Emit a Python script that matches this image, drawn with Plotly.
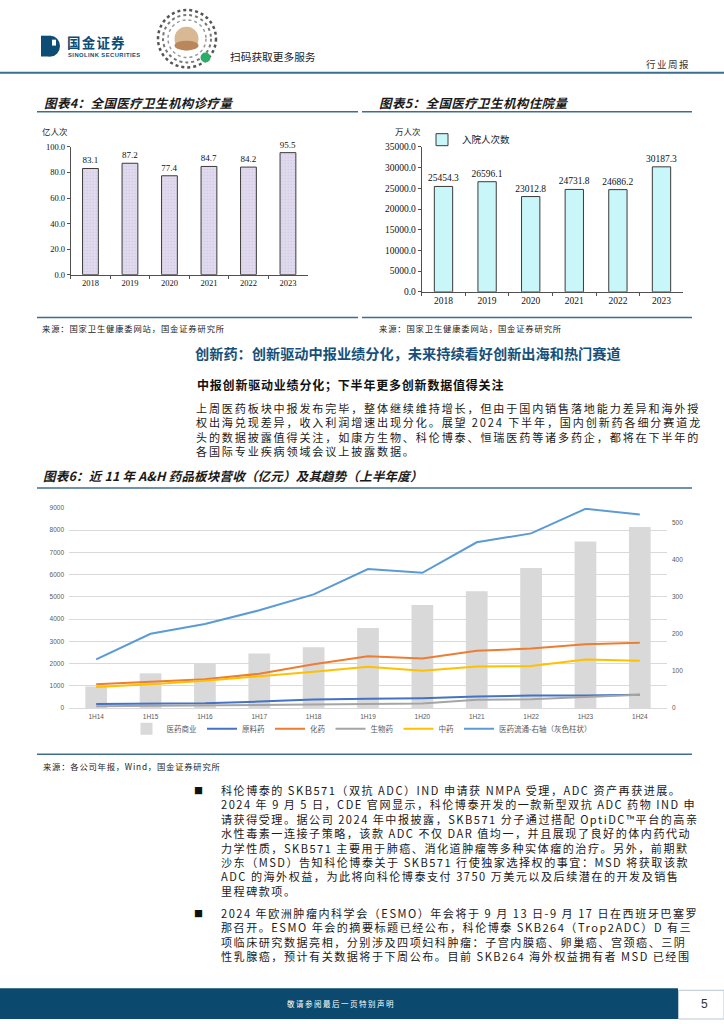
import plotly.graph_objects as go

W, H = 724, 1024
def X(px): return px / W
def Y(py): return 1 - py / H

CJK = "Noto Sans CJK SC"
SERIF = "Liberation Serif"
SANS = "Liberation Sans"

# ---------------- data ----------------
years = ["2018", "2019", "2020", "2021", "2022", "2023"]
visits = [83.1, 87.2, 77.4, 84.7, 84.2, 95.5]                              # 亿人次
admissions = [25454.3, 26596.1, 23012.8, 24731.8, 24686.2, 30187.3]         # 万人次

halves = ["1H14", "1H15", "1H16", "1H17", "1H18", "1H19", "1H20", "1H21", "1H22", "1H23", "1H24"]
commerce = [970, 1560, 2005, 2450, 2730, 3595, 4635, 5245, 6297, 7487, 8140]   # 医药商业
api = [180, 190, 215, 290, 380, 415, 445, 520, 565, 570, 593]                  # 原料药
chem = [1070, 1170, 1290, 1540, 1965, 2330, 2230, 2570, 2675, 2865, 2930]      # 化药
bio = [80, 95, 110, 130, 160, 178, 209, 370, 400, 505, 600]                    # 生物药
tcm = [950, 1065, 1230, 1413, 1630, 1858, 1680, 1872, 1885, 2183, 2126]        # 中药
dist = [131, 200, 226, 263, 306, 374, 364, 446, 470, 536, 521]                 # 医药流通-右轴

left_ticks = [0, 1000, 2000, 3000, 4000, 5000, 6000, 7000, 8000, 9000]
right_ticks = [0, 100, 200, 300, 400, 500]

fig = go.Figure()

# ---------------- chart 4 ----------------
fig.add_trace(go.Bar(
    x=years, y=visits, name="诊疗人次", xaxis="x", yaxis="y", legend="legend",
    width=0.4,
    marker=dict(color="#ddd5ec", line=dict(color="#3a3a3a", width=1),
                pattern=dict(shape=".", fgcolor="#b8add2", bgcolor="#e1daee", size=3, solidity=0.15)),
    text=[f"{v:.1f}" for v in visits], textposition="outside", cliponaxis=False,
    constraintext="none",
    textfont=dict(family=SERIF, size=9, color="#111"), hoverinfo="skip"))

# ---------------- chart 5 ----------------
fig.add_trace(go.Bar(
    x=years, y=admissions, name="入院人次数", xaxis="x2", yaxis="y2", legend="legend2",
    width=0.42,
    marker=dict(color="#c9f6f8", line=dict(color="#3a3a3a", width=1)),
    text=[f"{v:.1f}" for v in admissions], textposition="outside", cliponaxis=False,
    constraintext="none",
    textfont=dict(family=SERIF, size=9.5, color="#111"), hoverinfo="skip"))

# ---------------- chart 6 ----------------
fig.add_trace(go.Bar(x=halves, y=commerce, name="医药商业", xaxis="x3", yaxis="y3",
                     legend="legend3", width=0.4, marker=dict(color="#d9d9d9", line=dict(width=0)),
                     hoverinfo="skip"))
line_specs = [
    ("原料药", api, "#4472c4", "y3"),
    ("化药", chem, "#ed7d31", "y3"),
    ("生物药", bio, "#a5a5a5", "y3"),
    ("中药", tcm, "#ffc000", "y3"),
    ("医药流通-右轴（灰色柱状）", dist, "#5b9bd5", "y4"),
]
for name, vals, col, ya in line_specs:
    fig.add_trace(go.Scatter(x=halves, y=vals, name=name, mode="lines", xaxis="x3", yaxis=ya,
                             legend="legend3", line=dict(color=col, width=2), hoverinfo="skip"))

axis_dark = "#505050"
fig.update_layout(
    width=W, height=H, margin=dict(l=0, r=0, t=0, b=0),
    paper_bgcolor="white", plot_bgcolor="rgba(0,0,0,0)",
    font=dict(family=CJK, color="#222"),
    xaxis=dict(domain=[X(70.7), X(307.7)], anchor="y", type="category", range=[-0.5, 5.5],
               showline=True, linecolor=axis_dark, linewidth=1, ticks="outside", ticklen=3,
               tickcolor=axis_dark, tickson="boundaries", showgrid=False,
               tickfont=dict(family=SERIF, size=8.5, color="#111")),
    yaxis=dict(domain=[Y(272.3), Y(143.3)], anchor="x", range=[0, 100], dtick=20, tickformat=".1f",
               showline=True, linecolor=axis_dark, linewidth=1, ticks="outside", ticklen=3,
               tickcolor=axis_dark, showgrid=False, zeroline=False,
               tickfont=dict(family=SERIF, size=8.5, color="#111")),
    xaxis2=dict(domain=[X(421.7), X(683.3)], anchor="y2", type="category", range=[-0.5, 5.5],
                showline=True, linecolor=axis_dark, linewidth=1, ticks="outside", ticklen=3,
                tickcolor=axis_dark, tickson="boundaries", showgrid=False,
                tickfont=dict(family=SERIF, size=9.5, color="#111")),
    yaxis2=dict(domain=[Y(289.7), Y(143.3)], anchor="x2", range=[0, 35000], dtick=5000, tickformat=".1f",
                showline=True, linecolor=axis_dark, linewidth=1, ticks="outside", ticklen=3,
                tickcolor=axis_dark, showgrid=False, zeroline=False,
                tickfont=dict(family=SERIF, size=9.5, color="#111")),
    xaxis3=dict(domain=[X(69), X(667)], anchor="y3", type="category", range=[-0.5, 10.5],
                showline=False, ticks="", showgrid=False, ticklabelstandoff=3,
                tickfont=dict(family=SANS, size=6.5, color="#595959")),
    yaxis3=dict(domain=[Y(710), Y(507.7)], anchor="x3", range=[0, 9000], tickvals=left_ticks,
                showline=False, ticks="", showgrid=True, gridcolor="#d9d9d9", gridwidth=1.2,
                zeroline=True, zerolinecolor="#d9d9d9", zerolinewidth=1.2, ticklabelstandoff=4,
                tickfont=dict(family=SANS, size=6.5, color="#595959")),
    yaxis4=dict(overlaying="y3", side="right", anchor="x3", range=[0, 539], tickvals=right_ticks,
                showline=False, ticks="", showgrid=False, zeroline=False, ticklabelstandoff=4,
                tickfont=dict(family=SANS, size=6.5, color="#595959")),
    legend=dict(x=X(69), y=Y(139.3), xanchor="left", yanchor="middle", bgcolor="rgba(0,0,0,0)",
                font=dict(family=CJK, size=8.5, color="#222"), itemwidth=30),
    legend2=dict(x=X(422), y=Y(136), xanchor="left", yanchor="middle", bgcolor="rgba(0,0,0,0)",
                 font=dict(family=CJK, size=9.5, color="#222"), itemwidth=30),
    legend3=dict(x=X(362), y=Y(731), xanchor="center", yanchor="middle", orientation="h",
                 bgcolor="rgba(0,0,0,0)", font=dict(family=CJK, size=7.5, color="#595959"),
                 itemwidth=30),
)

# ---------------- text ----------------
ann = []
def txt(x, y, s, size, color="#222", family=CJK, xanchor="left", ls=None):
    if ls is not None:
        s = f'<span style="letter-spacing:{ls}px">{s}</span>'
    ann.append(dict(x=X(x), y=Y(y), xref="paper", yref="paper", text=s, showarrow=False,
                    xanchor=xanchor, yanchor="middle", align="left",
                    font=dict(family=family, size=size, color=color)))

def block(x, y_first, lines, size, ls, color="#1a1a1a"):
    step = 1.3 * size
    yc = y_first + step * (len(lines) - 1) / 2
    body = "<br>".join(f'<span style="letter-spacing:{ls}px">{ln}</span>' for ln in lines)
    ann.append(dict(x=X(x), y=Y(yc), xref="paper", yref="paper", text=body, showarrow=False,
                    xanchor="left", yanchor="middle", align="left",
                    font=dict(family=CJK, size=size, color=color)))

# header
txt(65, 37.5, "<b>国金证券</b>", 13.5, "#0d4c74", ls=1.2)
txt(65.5, 50, "<b>SINOLINK SECURITIES</b>", 5.8, "#0d4c74", SANS, ls=0.45)
txt(228, 52, "扫码获取更多服务", 10.7, "#222")
txt(644, 59.5, "行业周报", 9.5, "#333", ls=1.5)

# chart titles
txt(41.5, 98.3, "<b><i>图表4：全国医疗卫生机构诊疗量</i></b>", 12.5, "#1a1a1a", ls=0.4)
txt(376.5, 98.3, "<b><i>图表5：全国医疗卫生机构住院量</i></b>", 12.5, "#1a1a1a", ls=0.4)
txt(55, 127.7, "亿人次", 8.5, "#222", xanchor="center")
txt(408, 127.7, "万人次", 8.5, "#222", xanchor="center")
txt(40, 325.7, "来源：国家卫生健康委网站，国金证券研究所", 8.3, "#222", ls=0.85)
txt(376.5, 325.7, "来源：国家卫生健康委网站，国金证券研究所", 8.3, "#222", ls=0.85)

# section heading and paragraph
txt(193, 351, "<b>创新药：创新驱动中报业绩分化，未来持续看好创新出海和热门赛道</b>", 14.2, "#16507a")
txt(195, 383, "<b>中报创新驱动业绩分化；下半年更多创新数据值得关注</b>", 12, "#111", ls=0.8)

para = [
    "上周医药板块中报发布完毕，整体继续维持增长，但由于国内销售落地能力差异和海外授",
    "权出海兑现差异，收入利润增速出现分化。展望 2024 下半年，国内创新药各细分赛道龙",
    "头的数据披露值得关注，如康方生物、科伦博泰、恒瑞医药等诸多药企，都将在下半年的",
    "各国际专业疾病领域会议上披露数据。",
]
block(194, 406.7, para, 11.08, 1.85)

txt(41, 475, "<b><i>图表6：近 11 年 A&amp;H 药品板块营收（亿元）及其趋势（上半年度）</i></b>", 12.5, "#1a1a1a", ls=0.2)
txt(41, 768, "来源：各公司年报，Wind，国金证券研究所", 8.3, "#222", ls=0.8)

bullet1 = [
    "科伦博泰的 SKB571（双抗 ADC）IND 申请获 NMPA 受理，ADC 资产再获进展。",
    "2024 年 9 月 5 日，CDE 官网显示，科伦博泰开发的一款新型双抗 ADC 药物 IND 申",
    "请获得受理。据公司 2024 年中报披露，SKB571 分子通过搭配 OptiDC™平台的高亲",
    "水性毒素一连接子策略，该款 ADC 不仅 DAR 值均一，并且展现了良好的体内药代动",
    "力学性质，SKB571 主要用于肺癌、消化道肿瘤等多种实体瘤的治疗。另外，前期默",
    "沙东（MSD）告知科伦博泰关于 SKB571 行使独家选择权的事宜：MSD 将获取该款",
    "ADC 的海外权益，为此将向科伦博泰支付 3750 万美元以及后续潜在的开发及销售",
    "里程碑款项。",
]
bullet2 = [
    "2024 年欧洲肿瘤内科学会（ESMO）年会将于 9 月 13 日-9 月 17 日在西班牙巴塞罗",
    "那召开。ESMO 年会的摘要标题已经公布，科伦博泰 SKB264（Trop2ADC）D 有三",
    "项临床研究数据亮相，分别涉及四项妇科肿瘤：子宫内膜癌、卵巢癌、宫颈癌、三阴",
    "性乳腺癌，预计有关数据将于下周公布。目前 SKB264 海外权益拥有者 MSD 已经围",
]
y0, y1 = 793.0, 917.0
txt(198, y0, "■", 9, "#111", xanchor="center")
block(219, y0, bullet1, 11.08, 1.5)
txt(198, y1, "■", 9, "#111", xanchor="center")
block(219, y1, bullet2, 11.08, 1.5)

# footer
txt(285, 1008.5, "敬请参阅最后一页特别声明", 7.5, "white", ls=1.5)
txt(704, 1009, "5", 12, "#333", SANS, xanchor="center")

fig.update_layout(annotations=ann)

# ---------------- decorative shapes ----------------
shapes = []
def hline(x0, x1, y, color, width):
    shapes.append(dict(type="line", xref="paper", yref="paper", x0=X(x0), x1=X(x1), y0=Y(y), y1=Y(y),
                       line=dict(color=color, width=width)))
def rect(x0, y0, x1, y1, fill, lc=None, lw=0, kind="rect", dash="solid"):
    shapes.append(dict(type=kind, xref="paper", yref="paper", x0=X(x0), x1=X(x1), y0=Y(y1), y1=Y(y0),
                       fillcolor=fill, line=dict(color=lc or "rgba(0,0,0,0)", width=lw, dash=dash)))

hline(0, 724, 68.3, "#3a6f94", 2)
hline(37, 358, 107.7, "#3e6e8e", 1.5)
hline(362, 692, 107.7, "#3e6e8e", 1.5)
hline(37, 358, 315.5, "#3e6e8e", 1.5)
hline(362, 692, 315.5, "#3e6e8e", 1.5)
hline(37, 692, 487.7, "#3e6e8e", 1.5)
hline(37, 692, 756.7, "#3e6e8e", 1.5)

# logo icon
rect(41, 31, 60, 52, "#0d4c74", kind="circle")
rect(41, 31, 50.5, 52, "#0d4c74")
rect(52, 35, 56, 41, "white")
# mini-program code
rect(158, 5, 216, 63, "rgba(0,0,0,0)", "#555", 2.5, kind="circle", dash="dot")
rect(163, 10, 211, 58, "rgba(0,0,0,0)", "#777", 2, kind="circle", dash="dot")
rect(168, 15, 206, 53, "rgba(0,0,0,0)", "#999", 1.5, kind="circle", dash="dot")
rect(174.5, 22, 198.5, 46, "#d9b894", kind="circle")
rect(174.5, 36, 198.5, 46, "#b9875a", kind="circle")
rect(200.5, 48, 210.5, 58, "#2aae67", kind="circle")

# footer band
rect(0, 993, 678, 1024, "#0b4a6e")
rect(678.5, 995, 724, 1024, "white", "#b9c8d4", 1)

fig.update_layout(shapes=shapes)

fig.write_html("out.html", config={"displayModeBar": False},
               post_script="document.body.style.margin='0px';document.body.style.padding='0px';")
